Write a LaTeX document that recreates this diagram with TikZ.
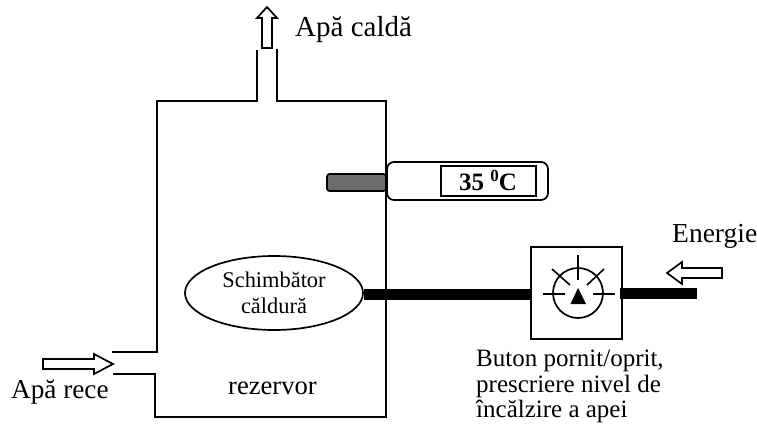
\documentclass[tikz,border=0pt]{standalone}
\usepackage{fontspec}
\setmainfont{Liberation Serif}
\usetikzlibrary{shapes.geometric,calc}
\tikzset{
 wall/.style={line width=1.7pt,line cap=butt},
 bar/.style={line width=11pt},
 tick/.style={line width=1.6pt},
 flow/.style={draw,line width=1.7pt,fill=white,miter limit=4},
 label/.style={inner sep=0pt,anchor=base west},
 small/.style={font=\fontsize{25}{25.5}\selectfont,inner sep=0pt,align=left,anchor=north west},
}
\begin{document}
\begin{tikzpicture}[x=1pt,y=-1pt]
\useasboundingbox (0,0) rectangle (757,430);
% tank
\draw[wall] (257,50) -- (257,101) -- (157,101) -- (157,352) -- (112,352);
\draw[wall] (277,49) -- (277,101) -- (386,101) -- (386,417) -- (155,417) -- (155,374) -- (113,374);
% thermometer
\node[draw,line width=1.7pt,fill=gray!85!black,rounded corners=2.5pt,minimum width=59pt,minimum height=17pt,inner sep=0pt] (probe) at (356.5,182.5) {};
\node[draw,line width=1.7pt,fill=white,rounded corners=7pt,minimum width=161pt,minimum height=38pt,inner sep=0pt] (therm) at (467.5,181) {};
\node[draw,line width=1.7pt,minimum width=95pt,minimum height=30pt,inner sep=0pt] (display) at (488.5,181) {};
\node[label,font=\fontsize{25}{26}\selectfont\bfseries] (temp) at (459,191) {35 \raisebox{9pt}{\fontsize{17}{17}\selectfont 0}C};
% heat exchanger
\node[draw,line width=1.7pt,ellipse,minimum width=178pt,minimum height=74pt,inner sep=0pt,align=center,font=\fontsize{22.4}{25.5}\selectfont] (hx) at (274,293) {Schimbător\\căldură};
% control box
\node[draw,line width=1.7pt,minimum width=91pt,minimum height=92pt,inner sep=0pt] (ctrl) at (576.5,293) {};
\coordinate (dial) at (578,293);
\draw[line width=1.7pt] (dial) circle (25pt);
\draw[tick] (578,255) -- (578,280);
\draw[tick] (543,294) -- (565,294);
\draw[tick] (593,294) -- (615,294);
\draw[tick] (552,269) -- (570,285);
\draw[tick] (604,269) -- (587,285);
\fill (578,288) -- (586,304) -- (570.5,304) -- cycle;
% bars
\coordinate (end) at (697,293.3);
\coordinate (barstart) at (620,293.3);
\draw[bar] (hx.east |- 0,294.5) -- (ctrl.west |- 0,294.5);
\draw[bar] (barstart) -- (end);
% arrows
\draw[flow] (267,7) -- (277,18) -- (272,18) -- (272,48) -- (262,48) -- (262,18) -- (257,18) -- cycle;
\draw[flow] (113,364) -- (94,354) -- (94,359) -- (43,359) -- (43,369) -- (94,369) -- (94,374) -- cycle;
\draw[flow] (667,273) -- (682,262) -- (682,268) -- (722,268) -- (722,278) -- (682,278) -- (682,284) -- cycle;
% labels
\node[label,font=\fontsize{29}{30}\selectfont] (t1) at (295,37) {Apă caldă};
\node[label,font=\fontsize{27.2}{30}\selectfont] (t2) at (11,398) {Apă rece};
\node[label,font=\fontsize{26.6}{30}\selectfont] (t3) at (228,394) {rezervor};
\node[label,font=\fontsize{27.5}{30}\selectfont] (t4) at (672,243) {Energie};
\node[small] (t5) at (476,350) {Buton pornit/oprit,\\prescriere nivel de\\încălzire a apei};
\end{tikzpicture}
\end{document}
